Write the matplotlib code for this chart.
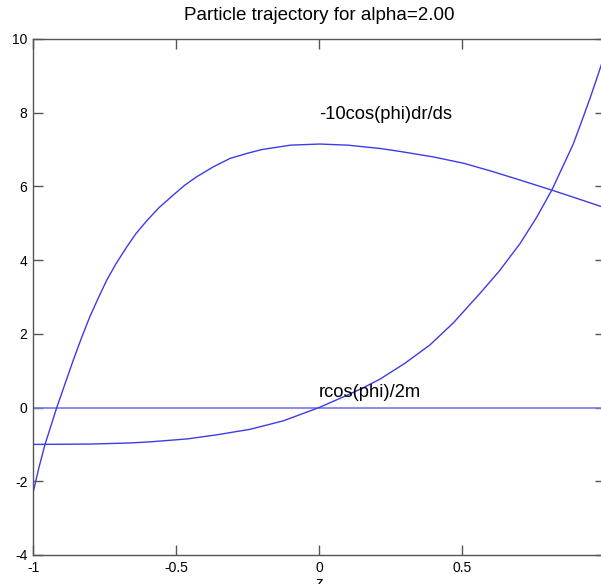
# Particle trajectory plot: two curves against z plus the zero line

import matplotlib
matplotlib.use('Agg')
import matplotlib.pyplot as plt

plt.rcParams['font.family'] = ['Liberation Sans', 'DejaVu Sans']
plt.rcParams['axes.unicode_minus'] = False

# rcos(phi)/2m curve
z_r = [-1.0, -0.8, -0.66, -0.59, -0.46, -0.358, -0.241, -0.125, 0.0, 0.1,
       0.15, 0.213, 0.3, 0.388, 0.47, 0.563, 0.63, 0.703, 0.76, 0.814, 0.85,
       0.889, 0.92, 0.948, 0.97, 1.0]
r_vals = [-1.0, -0.99, -0.96, -0.93, -0.85, -0.74, -0.59, -0.36, 0.0, 0.34,
          0.52, 0.77, 1.2, 1.7, 2.3, 3.10, 3.7, 4.45, 5.15, 5.9, 6.5,
          7.15, 7.8, 8.4, 8.9, 9.6]

# -10cos(phi)dr/ds curve
z_d = [-1.0, -0.98, -0.958, -0.917, -0.859, -0.83, -0.801, -0.77, -0.742,
       -0.71, -0.672, -0.64, -0.602, -0.56, -0.509, -0.47, -0.428, -0.37,
       -0.311, -0.25, -0.2, -0.1, 0.003, 0.1, 0.213, 0.283, 0.4, 0.505,
       0.6, 0.7, 0.814, 0.9, 1.0]
d_vals = [-2.32, -1.65, -1.0, 0.0, 1.29, 1.9, 2.47, 3.0, 3.46,
          3.9, 4.36, 4.72, 5.07, 5.42, 5.77, 6.03, 6.26, 6.53,
          6.76, 6.9, 7.0, 7.12, 7.15, 7.12, 7.03, 6.95, 6.80, 6.63,
          6.42, 6.18, 5.90, 5.68, 5.42]

# zero line
z_zero = [-1.0, 1.0]
zero_vals = [0.0, 0.0]

x_ticks = [-1, -0.5, 0, 0.5, 1]
x_labels = ['-1', '-0.5', '0', '0.5', '']
y_ticks = [-4, -2, 0, 2, 4, 6, 8, 10]

line_color = '#3c3ce6'
spine_color = '#555555'

fig = plt.figure(figsize=(6.01, 5.84), dpi=100)
ax = fig.add_axes([33 / 601, 29 / 584, 572 / 601, 516 / 584])

ax.plot(z_zero, zero_vals, color='#7878e8', lw=1.2)
ax.plot(z_r, r_vals, color=line_color, lw=1.0)
ax.plot(z_d, d_vals, color=line_color, lw=1.0)

ax.text(0.0, 7.95, '-10cos(phi)dr/ds', fontsize=13.2, va='center', ha='left')
ax.text(0.0, 0.4, 'rcos(phi)/2m', fontsize=13.2, va='center', ha='left')

ax.set_xlim(-1, 1)
ax.set_ylim(-4, 10)
ax.set_xticks(x_ticks)
ax.set_xticklabels(x_labels)
ax.set_yticks(y_ticks)
ax.tick_params(direction='in', length=7, width=1, color=spine_color,
               labelsize=10, top=True, right=True, pad=4)
for s in ax.spines.values():
    s.set_color(spine_color)
    s.set_linewidth(1.0)

ax.set_title('Particle trajectory for alpha=2.00', fontsize=13.5, pad=14)
ax.set_xlabel('z', fontsize=11, labelpad=1)

fig.savefig('out.png', dpi=100)
